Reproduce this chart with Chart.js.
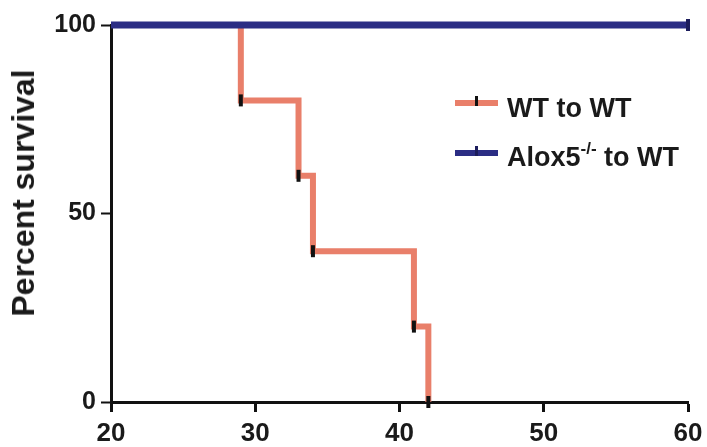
<!DOCTYPE html>
<html>
<head>
<meta charset="utf-8">
<script src="https://cdn.jsdelivr.net/npm/chart.js@4"></script>
<style>
  body { margin: 0; background: #fff; }
  #wrap { position: relative; width: 707px; height: 447px; }
  .leg { position: absolute; font: bold 27px "Liberation Sans", Arial, sans-serif; line-height: normal; color: #1a1a1a; white-space: nowrap; }
  .sw { position: absolute; width: 43px; height: 6px; }
  .sw i { position: absolute; left: 20px; top: -4px; width: 3px; height: 10px; background: #111; }
  sup { font-size: 17px; position: relative; top: -12px; vertical-align: baseline; line-height: 0; }
  #ytitel { position: absolute; left: 23px; top: 193px; transform: translate(-50%, -50%) rotate(-90deg);
    font: bold 32px "Liberation Sans", Arial, sans-serif; line-height: 1; color: #1a1a1a; white-space: nowrap; }
</style>
</head>
<body>
<div id="wrap">
  <canvas id="chart" width="707" height="447"></canvas>
  <div id="ytitel">Percent survival</div>
  <div class="sw" style="left:455px; top:100px; background:#e97f6a"><i></i></div>
  <div class="leg" style="left:507px; top:93px">WT to WT</div>
  <div class="sw" style="left:455px; top:150px; background:#2b2d84"><i style="background:#1c1d5c"></i></div>
  <div class="leg" style="left:507px; top:142px">Alox5<sup>-/-</sup> to WT</div>
</div>
<script>
// Kaplan-Meier Stufen (Tag, Prozent)
const wtTage = [20, 29, 33, 34, 41, 42];
const wtProzent = [100, 80, 60, 40, 20, 0];
const aloxTage = [20, 60];
const aloxProzent = [100, 100];
// Markierungen an den Stufen
const wtMarkTage = [29, 33, 34, 41, 42];
const wtMarkProzent = [80, 60, 40, 20, 0];
const aloxMarkTage = [60];
const aloxMarkProzent = [100];
const xTicks = [20, 30, 40, 50, 60];
const yTicks = [0, 50, 100];

const punkte = (xs, ys) => xs.map((x, i) => ({ x, y: ys[i] }));
const schrift = { family: '"Liberation Sans", Arial, sans-serif', weight: 'bold' };

new Chart(document.getElementById('chart'), {
  type: 'line',
  data: {
    datasets: [
      // vorderste zuerst: Marken, dann blaue Linie über der roten
      { type: 'scatter', data: punkte(wtMarkTage, wtMarkProzent), pointStyle: 'line', rotation: 90, radius: 6, borderColor: '#111', borderWidth: 4, clip: false },
      { type: 'scatter', data: punkte(aloxMarkTage, aloxMarkProzent), pointStyle: 'line', rotation: 90, radius: 6, borderColor: '#1c1d5c', borderWidth: 4, clip: false },
      { data: punkte(aloxTage, aloxProzent), borderColor: '#2b2d84', borderWidth: 7, stepped: 'before', pointRadius: 0, clip: false },
      { data: punkte(wtTage, wtProzent), borderColor: '#e97f6a', borderWidth: 6, stepped: 'before', pointRadius: 0, clip: false },
    ],
  },
  options: {
    responsive: false,
    animation: false,
    layout: { padding: { top: 25, right: 19 } },
    plugins: { legend: { display: false }, tooltip: { enabled: false } },
    scales: {
      x: {
        type: 'linear', min: 20, max: 60,
        afterBuildTicks: (s) => { s.ticks = xTicks.map((v) => ({ value: v })); },
        afterFit: (s) => { s.height = 45; s.paddingRight = 0; s.paddingLeft = 0; },
        border: { color: '#111', width: 3 },
        grid: { drawOnChartArea: false, drawTicks: true, tickLength: 10, tickColor: '#111', tickWidth: 3 },
        ticks: { color: '#1a1a1a', font: { ...schrift, size: 26 }, padding: 6, maxRotation: 0 },
      },
      y: {
        min: 0, max: 100,
        afterBuildTicks: (s) => { s.ticks = yTicks.map((v) => ({ value: v })); },
        afterFit: (s) => { s.width = 111; },
        border: { color: '#111', width: 3 },
        grid: { drawOnChartArea: false, drawTicks: true, tickLength: 10, tickColor: '#111', tickWidth: 2 },
        ticks: { color: '#1a1a1a', font: { ...schrift, size: 25 }, padding: 5 },
      },
    },
  },
});
</script>
</body>
</html>
